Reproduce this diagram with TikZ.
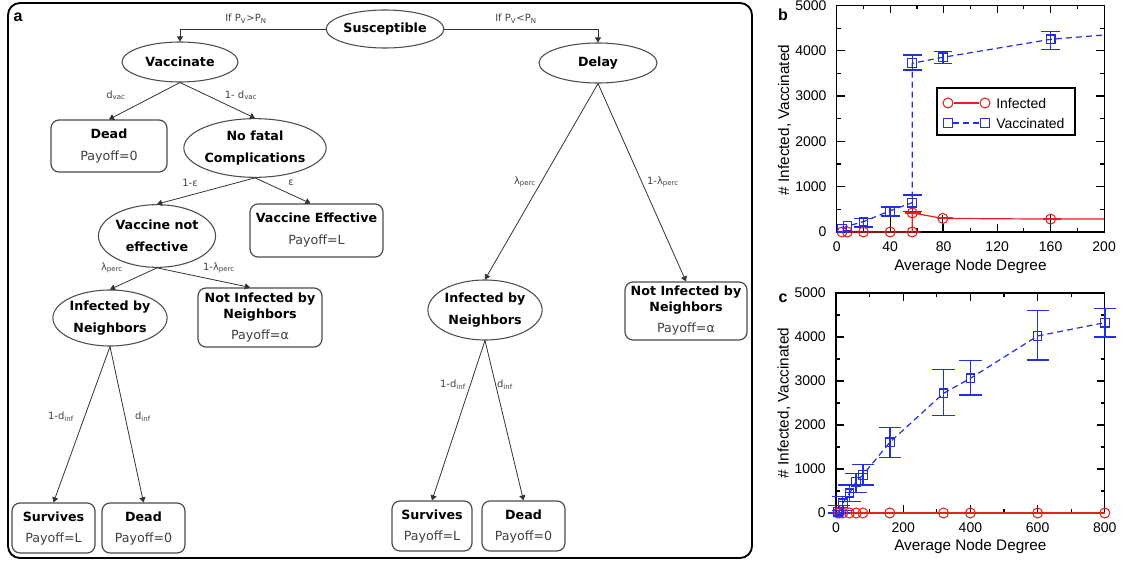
\documentclass[tikz,border=0pt]{standalone}
\usepackage{fontspec}
\setmainfont{DejaVu Sans}
\newfontfamily\plotfont{Liberation Sans}
\usetikzlibrary{arrows.meta,shapes.geometric}

\definecolor{infred}{RGB}{228,32,32}
\definecolor{vacblue}{RGB}{35,45,225}

\tikzset{
  choice/.style={ellipse, draw=black!70, line width=0.8pt, inner sep=0pt, align=center, font=\bfseries\fontsize{9.5}{16.5}\selectfont},
  outcome/.style={rectangle, rounded corners=6pt, draw=black!70, line width=0.9pt, inner sep=0pt, align=center, font=\fontsize{9.5}{12}\selectfont},
  branch/.style={draw=black!80, line width=0.6pt, -{Triangle[length=3.8pt,width=4.6pt]}},
  prob/.style={font=\fontsize{7.5}{9}\selectfont, text=black!75, inner sep=1pt},
  axisln/.style={line width=0.9pt},
  infline/.style={draw=infred, line width=0.9pt},
  vacline/.style={draw=vacblue, line width=0.9pt, dash pattern=on 4.5pt off 3pt},
  vacbar/.style={color=vacblue, line width=1.1pt},
  infbar/.style={color=infred, line width=1.6pt},
  infmark/.style={circle, draw=infred, line width=0.8pt, minimum size=7.5pt, inner sep=0pt},
  vacmark/.style={rectangle, draw=vacblue, line width=0.8pt, minimum size=6.5pt, inner sep=0pt},
  ticklbl/.style={font=\plotfont\fontsize{10.5}{12}\selectfont, inner sep=0pt},
  axlbl/.style={font=\plotfont\fontsize{11.5}{13}\selectfont, inner sep=0pt},
  panlbl/.style={font=\plotfont\bfseries\fontsize{12}{14}\selectfont, inner sep=0pt}
}

\begin{document}
\begin{tikzpicture}[x=0.75pt,y=0.75pt,yscale=-1,xscale=1]
\useasboundingbox (0,0) rectangle (1123,563);

%Rounded Rect: frame of panel a
\draw[line width=1.4pt, rounded corners=9pt] (8,3) rectangle (752,558);
\node[panlbl] (lbla) at (18,17) {a};

%Shape: Ellipse
\node[choice, minimum width=85.5pt, minimum height=28.5pt] (susc) at (385,29) {Susceptible};
\node[choice, minimum width=87pt, minimum height=30pt] (vac) at (180,62) {Vaccinate};
\node[choice, minimum width=88.5pt, minimum height=30pt] (delay) at (598,63) {Delay};
\node[choice, minimum width=85.5pt, minimum height=44pt] (nofatal) at (255,148) {No fatal\\Complications};
\node[choice, minimum width=82.5pt, minimum height=47pt] (vne) at (157,236) {Vaccine not\\effective};
\node[choice, minimum width=82.5pt, minimum height=42pt] (infl) at (110,318) {Infected by\\Neighbors};
\node[choice, minimum width=82.5pt, minimum height=45pt] (infr) at (485,310) {Infected by\\Neighbors};

%Rounded Rect
\node[outcome, minimum width=87pt, minimum height=39pt] (deadv) at (109,146) {\textbf{Dead}\\[5pt]\textcolor{black!75}{Payoff=0}};
\node[outcome, minimum width=99.75pt, minimum height=39.75pt] (veff) at (316.5,230.5) {\textbf{Vaccine Effective}\\[4.5pt]\textcolor{black!75}{Payoff=L}};
\node[outcome, minimum width=93pt, minimum height=44.25pt] (notinfa) at (260,317.5) {\textbf{Not Infected by}\\\textbf{Neighbors}\\[3.75pt]\textcolor{black!75}{Payoff=α}};
\node[outcome, minimum width=62.25pt, minimum height=37.5pt] (survl) at (53.5,528) {\textbf{Survives}\\[3.75pt]\textcolor{black!75}{Payoff=L}};
\node[outcome, minimum width=62.25pt, minimum height=37.5pt] (deadl) at (143.5,528) {\textbf{Dead}\\[3.75pt]\textcolor{black!75}{Payoff=0}};
\node[outcome, minimum width=91.5pt, minimum height=43.5pt] (notinfb) at (686,311) {\textbf{Not Infected by}\\\textbf{Neighbors}\\[3.75pt]\textcolor{black!75}{Payoff=α}};
\node[outcome, minimum width=60pt, minimum height=37.5pt] (survr) at (432,526) {\textbf{Survives}\\[3.75pt]\textcolor{black!75}{Payoff=L}};
\node[outcome, minimum width=62.25pt, minimum height=37.5pt] (deadr) at (523.5,526) {\textbf{Dead}\\[3.75pt]\textcolor{black!75}{Payoff=0}};

%Straight Lines
\draw[branch] (susc.west) -| (vac.north);
\draw[branch] (susc.east) -| (delay.north);
\draw[branch] (vac.south) -- (deadv.north);
\draw[branch] (vac.south) -- (nofatal.north);
\draw[branch] (nofatal.south) -- (vne.north);
\draw[branch] (nofatal.south) -- ([xshift=-4.5pt]veff.north);
\draw[branch] (vne.south) -- (infl.north);
\draw[branch] (vne.south) -- ([xshift=-7.5pt]notinfa.north);
\draw[branch] (infl.south) -- (survl.north);
\draw[branch] (infl.south) -- (deadl.north);
\draw[branch] (delay.south) -- (infr.north);
\draw[branch] (delay.south) -- (notinfb.north);
\draw[branch] (infr.south) -- (survr.north);
\draw[branch] (infr.south) -- (deadr.north);

% Text Node
\node[prob] (pyes) at (246,19) {If P\textsubscript{V}>P\textsubscript{N}};
\node[prob] (pno) at (516,19) {If P\textsubscript{V}<P\textsubscript{N}};
\node[prob] (pdv) at (116,95) {d\textsubscript{vac}};
\node[prob] (pndv) at (241,95) {1- d\textsubscript{vac}};
\node[prob] (pne) at (190,183) {1-ε};
\node[prob] (pe) at (291,183) {ε};
\node[prob] (plpa) at (112,268) {λ\textsubscript{perc}};
\node[prob] (pnlpa) at (219,268) {1-λ\textsubscript{perc}};
\node[prob] (pndia) at (61,417) {1-d\textsubscript{inf}};
\node[prob] (pdia) at (143,417) {d\textsubscript{inf}};
\node[prob] (plpb) at (525,182) {λ\textsubscript{perc}};
\node[prob] (pnlpb) at (663,182) {1-λ\textsubscript{perc}};
\node[prob] (pndib) at (453,385) {1-d\textsubscript{inf}};
\node[prob] (pdib) at (505,385) {d\textsubscript{inf}};

% panel b
\node[panlbl] (lblb) at (783,15) {b};
\begin{scope}[shift={(836.7,232)}, xscale=1.337, yscale=-0.0453]
\draw[axisln] (0,0) rectangle (200,5000);
\foreach \t in {40,80,120,160} \draw[axisln] (\t,0) -- (\t,177) (\t,5000) -- (\t,4823);
\foreach \t in {20,60,...,180} \draw[axisln] (\t,0) -- (\t,88) (\t,5000) -- (\t,4912);
\foreach \v in {1000,2000,3000,4000} \draw[axisln] (0,\v) -- (6,\v) (200,\v) -- (194,\v);
\foreach \v in {500,1500,...,4500} \draw[axisln] (0,\v) -- (3,\v) (200,\v) -- (197,\v);
\foreach \t in {0,40,...,200} \node[ticklbl] (bx\t) at (\t,-320) {\t};
\foreach \v in {0,1000,...,5000} \node[ticklbl, anchor=east] (by\v) at (-7.5,\v) {\v};
\node[axlbl] (bxl) at (100,-773) {Average Node Degree};
\node[axlbl, rotate=90] (byl) at (-39,2472) {\# Infected, Vaccinated};
% data
\draw[line width=0.7pt] (40,0) -- (40,485) (79.4,0) -- (79.4,375) (160,180) -- (160,370);
\draw[infline] (0,0) -- (63,0) (56.5,0) -- (56.5,420) -- (79.4,300) -- (160,285) -- (200,285);
\draw[infbar] (51,420) -- (63,420) (75,300) -- (87,300) (154,285) -- (168,285);
\draw[vacline] (4,80) -- (8,130) -- (20,228) -- (40,470) -- (56.5,647) -- (56.5,3724) -- (79.4,3856) -- (160,4253) -- (200,4349);
\foreach \xv/\ylo/\yhi in {20/110/300, 40/350/550, 56.5/450/815, 56.5/3576/3907, 79.4/3724/3980, 160/4033/4420}
  \draw[vacbar] ({\xv-7},\ylo) -- ({\xv+7},\ylo) (\xv,\ylo) -- (\xv,\yhi) ({\xv-7},\yhi) -- ({\xv+7},\yhi);
\foreach \xv/\yv [count=\i] in {4/0, 8/0, 20/0, 40/0, 56.5/0, 56.5/420, 79.4/300, 160/285}
  \node[infmark] (bi\i) at (\xv,\yv) {};
\foreach \xv/\yv [count=\i] in {4/80, 8/130, 20/228, 40/470, 56.5/647, 56.5/3724, 79.4/3856, 160/4253}
  \node[vacmark] (bv\i) at (\xv,\yv) {};
\end{scope}
% legend
\draw[line width=0.8pt] (937,88) rectangle (1075,135);
\node[infmark] (lgi1) at (948,103) {};
\node[infmark] (lgi2) at (985,103) {};
\draw[infline] (lgi1) -- (lgi2);
\node[vacmark] (lgv1) at (948,123) {};
\node[vacmark] (lgv2) at (985,123) {};
\draw[vacline] (lgv1) -- (lgv2);
\node[ticklbl, anchor=west] (lgit) at (996,103) {Infected};
\node[ticklbl, anchor=west] (lgvt) at (996,123) {Vaccinated};

% panel c
\node[panlbl] (lblc) at (783,298) {c};
\begin{scope}[shift={(836,513)}, xscale=0.336, yscale=-0.044]
\draw[axisln] (0,0) rectangle (800,5000);
\foreach \t in {200,400,600} \draw[axisln] (\t,0) -- (\t,182) (\t,5000) -- (\t,4818);
\foreach \t in {100,300,...,700} \draw[axisln] (\t,0) -- (\t,91) (\t,5000) -- (\t,4909);
\foreach \v in {1000,2000,3000,4000} \draw[axisln] (0,\v) -- (24,\v) (800,\v) -- (776,\v);
\foreach \v in {500,1500,...,4500} \draw[axisln] (0,\v) -- (12,\v) (800,\v) -- (788,\v);
\foreach \t in {0,200,...,800} \node[ticklbl] (cx\t) at (\t,-330) {\t};
\foreach \v in {0,1000,...,5000} \node[ticklbl, anchor=east] (cy\v) at (-30,\v) {\v};
\node[axlbl] (cxl) at (400,-773) {Average Node Degree};
\node[axlbl, rotate=90] (cyl) at (-155,2500) {\# Infected, Vaccinated};
% data
\draw[infline] (0,0) -- (800,0);
\draw[vacline] (5,30) -- (10,68) -- (20,220) -- (40,447) -- (60,711) -- (80,864) -- (160,1606) -- (320,2720) -- (400,3061) -- (600,4023) -- (800,4325);
\foreach \xv/\ylo/\yhi in {10/0/170, 20/60/380, 40/260/640, 60/470/900, 80/640/1100, 160/1265/1947, 320/2211/3266, 400/2682/3461, 600/3477/4598, 800/4000/4650}
  \draw[vacbar] ({\xv-33},\ylo) -- ({\xv+33},\ylo) (\xv,\ylo) -- (\xv,\yhi) ({\xv-33},\yhi) -- ({\xv+33},\yhi);
\foreach \xv [count=\i] in {5,10,20,40,60,80,160,320,400,600,800}
  \node[infmark] (ci\i) at (\xv,0) {};
\foreach \xv/\yv [count=\i] in {5/30, 10/68, 20/220, 40/447, 60/711, 80/864, 160/1606, 320/2720, 400/3061, 600/4023, 800/4325}
  \node[vacmark] (cv\i) at (\xv,\yv) {};
\end{scope}

\end{tikzpicture}
\end{document}
